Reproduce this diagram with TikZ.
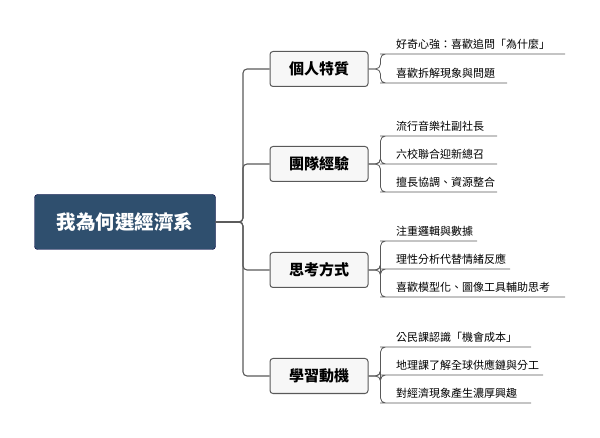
\documentclass[tikz,border=0pt]{standalone}
\usepackage{fontspec}
\setmainfont{Noto Sans CJK TC}
\begin{document}
\begin{tikzpicture}[x=1pt,y=1pt,
  line/.style={draw=black!65,line width=1.1pt,rounded corners=4pt},
  root/.style={draw=black!75!blue,fill=rootc,rounded corners=3pt,minimum width=181pt,minimum height=55pt,text=white,font=\fontsize{19.5}{22}\selectfont\bfseries},
  branch/.style={draw=black!65,fill=black!3,line width=1pt,rounded corners=3pt,minimum width=98pt,minimum height=35pt,font=\fontsize{15}{17}\selectfont\bfseries},
  leaf/.style={anchor=south west,inner sep=1pt,font=\fontsize{11}{13}\selectfont}]
\definecolor{rootc}{HTML}{2F4F6E}
\useasboundingbox (0,0) rectangle (600,-438);
\node[root] (r) at (125,-222) {我為何選經濟系};
\coordinate (t) at (243,-222);
\node[branch] (b1) at (319,-69) {個人特質};
\node[branch] (b2) at (319,-164) {團隊經驗};
\node[branch] (b3) at (319,-270) {思考方式};
\node[branch] (b4) at (319,-376) {學習動機};
\foreach \b in {b1,b2,b3,b4} \draw[line] (r.east) -- (t) |- (\b.west);
\foreach \b/\i/\y/\e/\txt in {
  b1/1/54/565/好奇心強：喜歡追問「為什麼」,
  b1/2/83/507/喜歡拆解現象與問題,
  b2/1/136/497/流行音樂社副社長,
  b2/2/164/497/六校聯合迎新總召,
  b2/3/192/497/擅長協調、資源整合,
  b3/1/241/477/注重邏輯與數據,
  b3/2/269/510/理性分析代替情緒反應,
  b3/3/297/565/喜歡模型化、圖像工具輔助思考,
  b4/1/347/531/公民課認識「機會成本」,
  b4/2/375/543/地理課了解全球供應鏈與分工,
  b4/3/403/531/對經濟現象產生濃厚興趣}{
  \coordinate (\b k) at ([xshift=12pt]\b.east);
  \coordinate (\b s\i) at (385,-\y);
  \coordinate (\b e\i) at (\e,-\y);
  \draw[line,line width=0.8pt,rounded corners=5pt] (\b.east) -- (\b k) |- (\b s\i) -- (\b e\i);
  \node[leaf] (\b l\i) at (395,-\y+3) {\txt};
}
\end{tikzpicture}
\end{document}
